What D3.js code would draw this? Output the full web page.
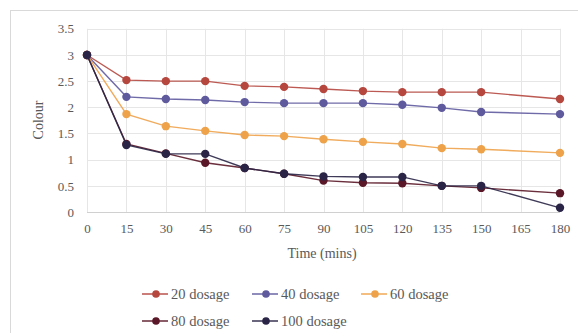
<!DOCTYPE html>
<html>
<head>
<meta charset="utf-8">
<script src="https://cdn.jsdelivr.net/npm/d3@7"></script>
<style>
  html, body { margin: 0; padding: 0; background: #fff; }
  svg { display: block; font-family: "Liberation Serif", "DejaVu Serif", serif; }
  svg text { font-family: "Liberation Serif", "DejaVu Serif", serif; fill: #595959; }
</style>
</head>
<body>
<svg id="chart" width="578" height="333"></svg>
<script>
// Sampling times (minutes)
const times = [0, 15, 30, 45, 60, 75, 90, 105, 120, 135, 150, 180];
// Colour readings per dosage
const dose20  = [3, 2.52, 2.50, 2.50, 2.41, 2.39, 2.35, 2.31, 2.29, 2.29, 2.29, 2.16];
const dose40  = [3, 2.20, 2.16, 2.14, 2.10, 2.08, 2.08, 2.08, 2.05, 1.99, 1.91, 1.87];
const dose60  = [3, 1.87, 1.64, 1.55, 1.47, 1.45, 1.39, 1.34, 1.30, 1.22, 1.20, 1.13];
const dose80  = [3, 1.30, 1.12, 0.94, 0.84, 0.73, 0.60, 0.56, 0.55, 0.50, 0.46, 0.36];
const dose100 = [3, 1.28, 1.11, 1.11, 0.84, 0.73, 0.68, 0.67, 0.67, 0.50, 0.50, 0.08];
const seriesNames = ["20 dosage", "40 dosage", "60 dosage", "80 dosage", "100 dosage"];
const xTicks = [0, 15, 30, 45, 60, 75, 90, 105, 120, 135, 150, 165, 180];
const yTicks = [0, 0.5, 1, 1.5, 2, 2.5, 3, 3.5];

const seriesValues = [dose20, dose40, dose60, dose80, dose100];
const colors = ["#b5473f", "#5f5a9e", "#eea24a", "#5a1727", "#2a2546"];
const fontFamily = '"Liberation Serif", "DejaVu Serif", serif';

const svg = d3.select("#chart");

// Chart area frame
svg.append("rect")
  .attr("x", 10.5).attr("y", 10.5)
  .attr("width", 600).attr("height", 400)
  .attr("fill", "none").attr("stroke", "#d9d9d9").attr("stroke-width", 1);

const x = d3.scaleLinear().domain([0, 180]).range([87, 560]);
const y = d3.scaleLinear().domain([0, 3.5]).range([212, 28.8]);

// Gridlines
const grid = svg.append("g");
grid.selectAll("line.h").data(yTicks).join("line")
  .attr("class", "h")
  .attr("x1", x(0)).attr("x2", x(180))
  .attr("y1", d => Math.round(y(d)) + 0.5).attr("y2", d => Math.round(y(d)) + 0.5)
  .attr("stroke", d => d === 0 ? "#d0d0d0" : "#e6e6e6").attr("stroke-width", 1);
grid.selectAll("line.v").data(xTicks).join("line")
  .attr("class", "v")
  .attr("y1", y(0)).attr("y2", y(3.5))
  .attr("x1", d => Math.round(x(d)) + 0.5).attr("x2", d => Math.round(x(d)) + 0.5)
  .attr("stroke", "#e6e6e6").attr("stroke-width", 1);

// Axes (labels only)
const xAxis = svg.append("g").attr("transform", `translate(0,${y(0)})`)
  .call(d3.axisBottom(x).tickValues(xTicks).tickSize(0).tickPadding(12).tickFormat(d3.format("d")));
const yAxis = svg.append("g").attr("transform", `translate(${x(0)},0)`)
  .call(d3.axisLeft(y).tickValues(yTicks).tickSize(0).tickPadding(13).tickFormat(d => String(d)));
[xAxis, yAxis].forEach(g => {
  g.attr("font-family", fontFamily).attr("font-size", 13);
  g.select(".domain").remove();
  g.selectAll("text").attr("fill", "#595959");
});

// Axis titles
svg.append("text").attr("x", 322).attr("y", 258).attr("text-anchor", "middle")
  .attr("font-family", fontFamily).attr("font-size", 14).text("Time (mins)");
svg.append("text").attr("transform", "translate(43,120) rotate(-90)").attr("text-anchor", "middle")
  .attr("font-family", fontFamily).attr("font-size", 14).text("Colour");

// Series lines and markers
const line = d3.line().x((d, i) => x(times[i])).y(d => y(d));
seriesValues.forEach((vals, s) => {
  const g = svg.append("g");
  g.append("path").datum(vals)
    .attr("d", line).attr("fill", "none")
    .attr("stroke", colors[s]).attr("stroke-width", 1.4).attr("stroke-opacity", 0.9);
  g.selectAll("circle").data(vals).join("circle")
    .attr("cx", (d, i) => x(times[i])).attr("cy", d => y(d))
    .attr("r", 4.2).attr("fill", colors[s]);
});

// Legend
const legendPos = [[156, 294], [266, 294], [375, 294], [156, 321], [266, 321]];
seriesNames.forEach((name, s) => {
  const [cx, cy] = legendPos[s];
  const g = svg.append("g");
  g.append("line").attr("x1", cx - 14).attr("x2", cx + 12).attr("y1", cy).attr("y2", cy)
    .attr("stroke", colors[s]).attr("stroke-width", 1.4);
  g.append("circle").attr("cx", cx).attr("cy", cy).attr("r", 3.8).attr("fill", colors[s]);
  g.append("text").attr("x", cx + 15).attr("y", cy + 5)
    .attr("font-family", fontFamily).attr("font-size", 14.5).text(name);
});
</script>
</body>
</html>
